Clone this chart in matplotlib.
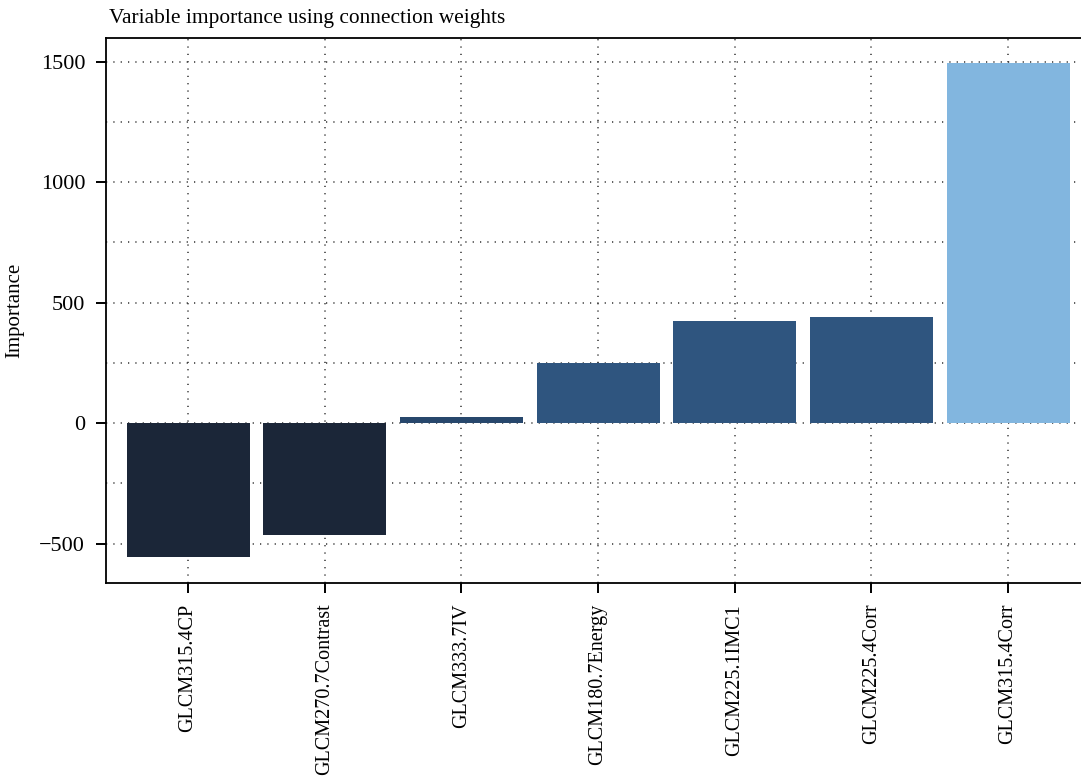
import matplotlib.pyplot as plt
from matplotlib.ticker import MultipleLocator

plt.rcParams['font.family'] = ['Liberation Serif', 'DejaVu Serif']

variables = ['GLCM315.4CP', 'GLCM270.7Contrast', 'GLCM333.7IV', 'GLCM180.7Energy',
             'GLCM225.1IMC1', 'GLCM225.4Corr', 'GLCM315.4Corr']
importance = [-555, -462, 27, 248, 424, 442, 1495]
bar_colors = ['#1B2638', '#1B2638', '#27476C', '#2F557F', '#2F557F', '#2F557F', '#82B6DF']

fig = plt.figure(figsize=(10.81, 7.82), dpi=100)
ax = fig.add_axes([106 / 1081, 1 - 583 / 782, 984 / 1081, 545 / 782])

x = range(len(variables))
ax.bar(x, importance, width=0.9, color=bar_colors, zorder=3)

ax.set_xlim(-0.6, 6.6)
ax.set_ylim(-663, 1598)
ax.set_xticks(list(x))
ax.set_xticklabels(variables, rotation=90, fontsize=14.5)
ax.yaxis.set_major_locator(MultipleLocator(500))
ax.yaxis.set_minor_locator(MultipleLocator(250))
ax.set_yticks([-500, 0, 500, 1000, 1500])
ax.set_yticklabels(['\u2212500', '0', '500', '1000', '1500'], fontsize=16)

dots = (0, (0.8, 4))
ax.grid(True, which='both', axis='y', color='#333333', linestyle=dots, linewidth=1.1, zorder=1)
ax.grid(True, which='major', axis='x', color='#333333', linestyle=dots, linewidth=1.1, zorder=1)

ax.tick_params(axis='both', which='major', direction='out', length=7, width=1.4, color='black')
ax.tick_params(axis='y', which='minor', length=0)
ax.tick_params(axis='y', pad=8)
ax.tick_params(axis='x', pad=8)

ax.spines['right'].set_visible(False)
for side in ['left', 'bottom', 'top']:
    ax.spines[side].set_linewidth(1.3)

ax.set_ylabel('Importance', fontsize=15)
ax.yaxis.set_label_coords(-0.083, 0.5)
fig.text(109 / 1081, 1 - 19 / 782, 'Variable importance using connection weights',
         fontsize=15.4, ha='left', va='center')

fig.savefig('out.png', dpi=100)
